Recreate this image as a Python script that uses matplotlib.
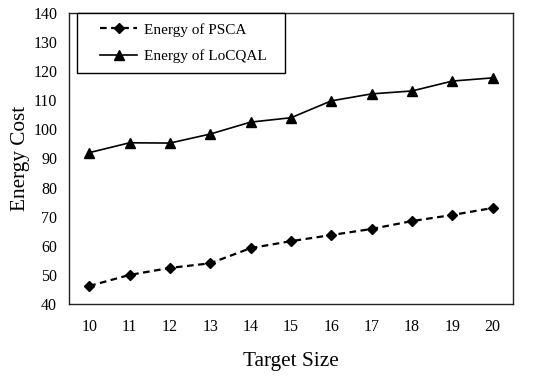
import numpy as np
import matplotlib
matplotlib.use("Agg")
import matplotlib.pyplot as plt
from matplotlib.legend_handler import HandlerLine2D

plt.rcParams['font.family'] = ['Liberation Serif', 'DejaVu Serif']

target_size = [10, 11, 12, 13, 14, 15, 16, 17, 18, 19, 20]
energy_psca = [46.2, 50.0, 52.4, 54.0, 59.2, 61.6, 63.7, 65.8, 68.5, 70.6, 73.0]
energy_locqal = [92.0, 95.4, 95.3, 98.4, 102.5, 104.0, 109.8, 112.2, 113.2, 116.6, 117.7]

fig = plt.figure(figsize=(5.5, 3.81), dpi=100)
ax = fig.add_axes([0.1255, 0.202, 0.807, 0.764])

l1, = ax.plot(target_size, energy_psca, 'k--', marker='D', markersize=5.5, lw=1.6,
              dashes=(3, 2), label='Energy of PSCA')
l2, = ax.plot(target_size, energy_locqal, 'k-', marker='^', markersize=7.5, lw=1.2,
              label='Energy of LoCQAL')

ax.set_xlim(9.5, 20.5)
ax.set_ylim(40, 140)
ax.set_xticks(target_size)
ax.set_yticks(np.arange(40, 141, 10))
ax.tick_params(length=0, labelsize=11.5)
ax.tick_params(axis='x', pad=11)
ax.tick_params(axis='y', pad=8.5)
for s in ax.spines.values():
    s.set_color('#222222')
    s.set_linewidth(1.0)

ax.set_xlabel('Target Size', fontsize=15.3, labelpad=12)
ax.set_ylabel('Energy Cost', fontsize=15.3, labelpad=2)

# indented legend handles, box stretched to the reference width
hmap = {l1: HandlerLine2D(xpad=0.88), l2: HandlerLine2D(xpad=0.88)}
leg = ax.legend(loc='upper left', bbox_to_anchor=(0.018, 0.5, 0.468, 0.5),
                mode='expand', fontsize=11, handler_map=hmap,
                fancybox=False, edgecolor='black', framealpha=1,
                handlelength=3.27, handletextpad=0.48, borderpad=0.65,
                labelspacing=0.85, borderaxespad=0)
leg.get_frame().set_linewidth(1.0)

fig.savefig('out.png', dpi=100)
